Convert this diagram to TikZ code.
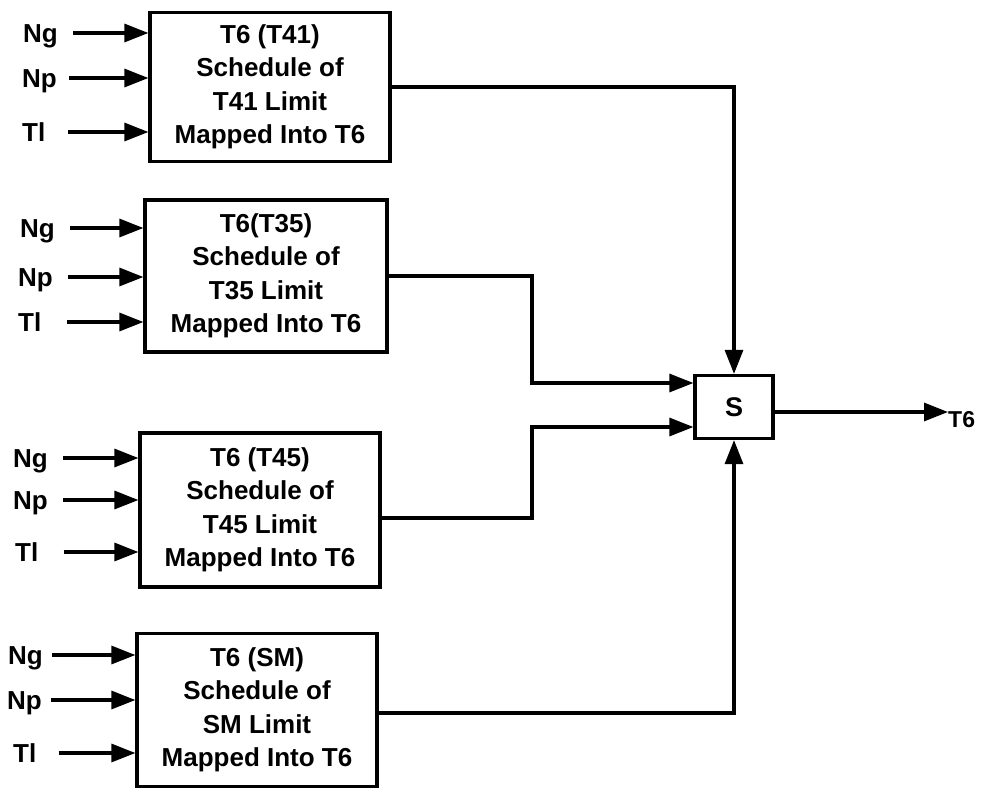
\documentclass[tikz,border=0pt]{standalone}
\usepackage{fontspec}
\setmainfont{Liberation Sans}
\usetikzlibrary{arrows.meta}
\begin{document}
\begin{tikzpicture}[x=1pt,y=-1pt,
  lw/.style={line width=3.2pt},
  arr/.style={lw,-{Triangle[length=24pt,width=18pt]}},
  blk/.style={draw,lw,minimum width=240pt,inner sep=0pt,align=center,
    font=\fontsize{26}{33.5}\selectfont\bfseries},
  sum/.style={draw,lw,minimum width=78pt,minimum height=63pt,inner sep=0pt,
    font=\fontsize{27}{30}\selectfont\bfseries},
  inlab/.style={anchor=west,inner sep=0pt,text height=18.5pt,text depth=0pt,
    font=\fontsize{26}{30}\selectfont\bfseries},
  outlab/.style={anchor=west,inner sep=0pt,text height=17pt,text depth=0pt,
    font=\fontsize{23}{25}\selectfont\bfseries}]
\useasboundingbox (0,0) rectangle (983,801);

% blocks
\node[blk,minimum height=149pt] (b1) at (270,87) {T6 (T41)\\Schedule of\\T41 Limit\\Mapped Into T6};
\node[blk,minimum height=152pt,minimum width=242pt] (b2) at (266,276) {T6(T35)\\Schedule of\\T35 Limit\\Mapped Into T6};
\node[blk,minimum height=154pt] (b3) at (260,510) {T6 (T45)\\Schedule of\\T45 Limit\\Mapped Into T6};
\node[blk,minimum height=153pt] (b4) at (257,710) {T6 (SM)\\Schedule of\\SM Limit\\Mapped Into T6};
\node[sum] (s) at (734,407) {S};

% inputs block 1
\node[inlab] (g1) at (23,33) {Ng};
\node[inlab] (p1) at (22,78) {Np};
\node[inlab] (t1) at (22,132) {Tl};
\draw[arr] (g1.east) ++(15,0) -- (b1.west |- g1);
\draw[arr] (p1.east) ++(12,0) -- (b1.west |- p1);
\draw[arr] (t1.east) ++(22,0) -- (b1.west |- t1);
% inputs block 2
\node[inlab] (g2) at (20,228) {Ng};
\node[inlab] (p2) at (18,277) {Np};
\node[inlab] (t2) at (18,322) {Tl};
\draw[arr] (g2.east) ++(15,0) -- (b2.west |- g2);
\draw[arr] (p2.east) ++(15,0) -- (b2.west |- p2);
\draw[arr] (t2.east) ++(25,0) -- (b2.west |- t2);
% inputs block 3
\node[inlab] (g3) at (13,458) {Ng};
\node[inlab] (p3) at (13,500) {Np};
\node[inlab] (t3) at (15,552) {Tl};
\draw[arr] (g3.east) ++(15,0) -- (b3.west |- g3);
\draw[arr] (p3.east) ++(15,0) -- (b3.west |- p3);
\draw[arr] (t3.east) ++(25,0) -- (b3.west |- t3);
% inputs block 4
\node[inlab] (g4) at (8,655) {Ng};
\node[inlab] (p4) at (7,700) {Np};
\node[inlab] (t4) at (13,753) {Tl};
\draw[arr] (g4.east) ++(9,0) -- (b4.west |- g4);
\draw[arr] (p4.east) ++(9,0) -- (b4.west |- p4);
\draw[arr] (t4.east) ++(22,0) -- (b4.west |- t4);

% connectors to S
\coordinate (c2) at (532,383);
\coordinate (c3) at (532,427);
\draw[arr] (b1.east |- 0,87) -| (s.north);
\draw[arr] (b2.east) -| (c2) -- (s.west |- c2);
\draw[arr] (b3.east |- 0,518) -| (c3) -- (s.west |- c3);
\draw[arr] (b4.east |- 0,713) -| (s.south);

% output
\node[outlab] (out) at (948,419) {T6};
\draw[arr] (s.east |- 0,412) -- (out.west |- 0,412);
\end{tikzpicture}
\end{document}
